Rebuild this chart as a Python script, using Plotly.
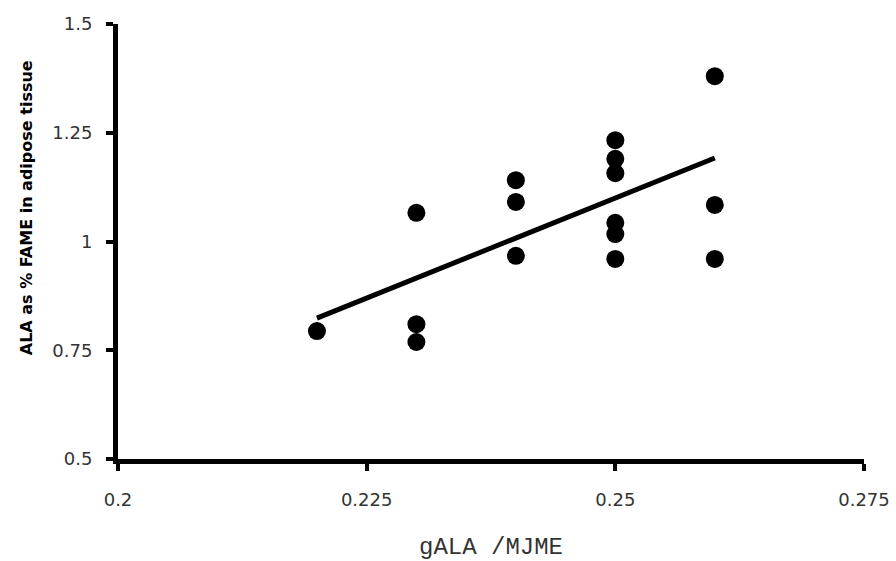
import plotly.graph_objects as go

# Data
x_vals = [0.22, 0.23, 0.23, 0.23, 0.24, 0.24, 0.24,
          0.25, 0.25, 0.25, 0.25, 0.25, 0.25, 0.26, 0.26, 0.26]
y_vals = [0.794, 1.066, 0.810, 0.769, 1.141, 1.091, 0.967,
          1.233, 1.190, 1.157, 1.043, 1.017, 0.960, 1.380, 1.084, 0.960]
trend_x = [0.22, 0.26]
trend_y = [0.824, 1.192]

x_ticks = [0.2, 0.225, 0.25, 0.275]
x_ticklabels = ["0.2", "0.225", "0.25", "0.275"]
y_ticks = [0.5, 0.75, 1.0, 1.25, 1.5]
y_ticklabels = ["0.5", "0.75", "1", "1.25", "1.5"]

fig = go.Figure()
fig.add_trace(go.Scatter(x=trend_x, y=trend_y, mode="lines",
                         line=dict(color="black", width=5), showlegend=False))
fig.add_trace(go.Scatter(x=x_vals, y=y_vals, mode="markers",
                         marker=dict(color="black", size=18, line=dict(width=0)),
                         showlegend=False))

tick_font = dict(family="DejaVu Sans, sans-serif", size=18, color="#333333")

fig.update_layout(
    width=896, height=561,
    margin=dict(l=118, r=32, t=24, b=102),
    paper_bgcolor="white", plot_bgcolor="white",
    xaxis=dict(range=[0.2, 0.275], tickvals=x_ticks, ticktext=x_ticklabels,
               showgrid=False, zeroline=False, automargin=False,
               showline=True, linecolor="black", linewidth=5,
               ticks="outside", ticklen=7, tickwidth=4, tickcolor="black",
               tickfont=tick_font, ticklabelstandoff=13,
               title=dict(text="gALA /MJME",
                          font=dict(family="Liberation Mono, Courier New, monospace",
                                    size=24, color="#333333"),
                          standoff=32)),
    yaxis=dict(range=[0.5, 1.5], tickvals=y_ticks, ticktext=y_ticklabels,
               showgrid=False, zeroline=False, automargin=False,
               showline=True, linecolor="black", linewidth=5,
               ticks="outside", ticklen=7, tickwidth=4, tickcolor="black",
               tickfont=tick_font, ticklabelstandoff=10),
    annotations=[dict(text="<b>ALA as % FAME in adipose tissue</b>",
                      xref="paper", yref="paper", x=-0.123, y=0.577,
                      xanchor="center", yanchor="middle", textangle=-90,
                      showarrow=False,
                      font=dict(family="DejaVu Sans, sans-serif",
                                size=16, color="black"))],
)

fig.write_html("out.html")
